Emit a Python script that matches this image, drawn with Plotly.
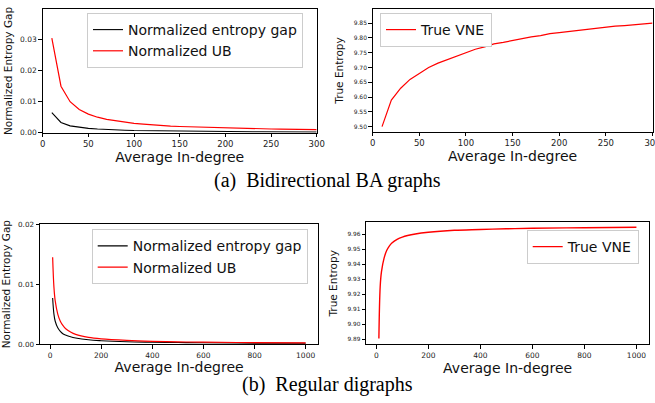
import plotly.graph_objects as go

# ---- data ----
ba_x = list(range(10, 301, 10))
ba_gap = [0.0065, 0.0033, 0.0022, 0.0017, 0.0014, 0.0012, 0.0010, 0.0009, 0.0008, 0.0007,
          0.00065, 0.0006, 0.00055, 0.0005, 0.00047, 0.00044, 0.00041, 0.00039, 0.00037, 0.00035,
          0.00033, 0.00032, 0.0003, 0.00029, 0.00028, 0.00027, 0.00026, 0.00025, 0.00024, 0.00023]
ba_ub = [0.0305, 0.0150, 0.0100, 0.0075, 0.0060, 0.0050, 0.0043, 0.0038, 0.0034, 0.0030,
         0.00275, 0.0025, 0.0023, 0.0021, 0.0020, 0.0019, 0.0018, 0.0017, 0.0016, 0.0015,
         0.00145, 0.0014, 0.0013, 0.00125, 0.0012, 0.00115, 0.0011, 0.00107, 0.00103, 0.0010]
ba_vne = [9.50, 9.59, 9.63, 9.66, 9.68, 9.70, 9.715, 9.727, 9.737, 9.75,
          9.762, 9.77, 9.78, 9.785, 9.792, 9.798, 9.804, 9.808, 9.815, 9.818,
          9.822, 9.826, 9.83, 9.833, 9.836, 9.84, 9.842, 9.845, 9.847, 9.85]

rg_x = [10, 15, 20, 30, 40, 50, 60, 80, 100, 150, 200, 300, 400, 500, 600, 800, 1000]
rg_gap = [0.0077, 0.0050, 0.0038, 0.0027, 0.0021, 0.0017, 0.0015, 0.0012, 0.0010, 0.0007,
          0.00055, 0.00038, 0.0003, 0.00024, 0.0002, 0.00015, 0.00012]
rg_ub = [0.0145, 0.0095, 0.0072, 0.0050, 0.0038, 0.0031, 0.0026, 0.0020, 0.0016, 0.0011,
         0.00085, 0.0006, 0.00045, 0.00036, 0.0003, 0.00023, 0.00018]
rg_vne = [9.8905, 9.925, 9.935, 9.944, 9.949, 9.952, 9.954, 9.9565, 9.958, 9.960,
          9.9612, 9.9625, 9.963, 9.9635, 9.9638, 9.9642, 9.9645]

ba_x_ticks = [0, 50, 100, 150, 200, 250, 300]
rg_x_ticks = [0, 200, 400, 600, 800, 1000]
ba_y_ticks = [0.00, 0.01, 0.02, 0.03]
ba_vne_ticks = [9.50, 9.55, 9.60, 9.65, 9.70, 9.75, 9.80, 9.85]
rg_y_ticks = [0.00, 0.01, 0.02]
rg_vne_ticks = [9.89, 9.90, 9.91, 9.92, 9.93, 9.94, 9.95, 9.96]

W, H = 655, 403
FONT = "DejaVu Sans"

def dx(a, b):
    return [a / W, b / W]

def dy(top, bot):
    return [1 - bot / H, 1 - top / H]

fig = go.Figure()

fig.add_trace(go.Scatter(x=ba_x, y=ba_gap, mode="lines", name="Normalized entropy gap",
                         line=dict(color="black", width=1.1), xaxis="x", yaxis="y", legend="legend"))
fig.add_trace(go.Scatter(x=ba_x, y=ba_ub, mode="lines", name="Normalized UB",
                         line=dict(color="red", width=1.2), xaxis="x", yaxis="y", legend="legend"))
fig.add_trace(go.Scatter(x=ba_x, y=ba_vne, mode="lines", name="True VNE",
                         line=dict(color="red", width=1.2), xaxis="x2", yaxis="y2", legend="legend2"))
fig.add_trace(go.Scatter(x=rg_x, y=rg_gap, mode="lines", name="Normalized entropy gap",
                         line=dict(color="black", width=1.1, shape="spline"), xaxis="x3", yaxis="y3", legend="legend3"))
fig.add_trace(go.Scatter(x=rg_x, y=rg_ub, mode="lines", name="Normalized UB",
                         line=dict(color="red", width=1.2, shape="spline"), xaxis="x3", yaxis="y3", legend="legend3"))
fig.add_trace(go.Scatter(x=rg_x, y=rg_vne, mode="lines", name="True VNE",
                         line=dict(color="red", width=1.4, shape="spline"), xaxis="x4", yaxis="y4", legend="legend4"))

def xax(domain, anchor, rng, ticks, size=8):
    return dict(domain=domain, anchor=anchor, range=rng, tickvals=ticks, automargin=False,
                showline=True, linecolor="black", linewidth=1, mirror=True,
                ticks="outside", ticklen=3.5, tickcolor="black", tickwidth=0.8,
                showgrid=False, zeroline=False, ticklabeloverflow="allow",
                tickfont=dict(family=FONT, size=size, color="#222"),
                title=dict(text="Average In-degree", font=dict(family=FONT, size=14, color="#111"), standoff=2))

def yax(domain, anchor, rng, ticks, fmt, title, size=8, standoff=5):
    return dict(domain=domain, anchor=anchor, range=rng, tickvals=ticks, tickformat=fmt, automargin=False,
                showline=True, linecolor="black", linewidth=1, mirror=True,
                ticks="outside", ticklen=3.5, tickcolor="black", tickwidth=0.8,
                showgrid=False, zeroline=False,
                tickfont=dict(family=FONT, size=size, color="#222"),
                title=dict(text=title, font=dict(family=FONT, size=10.5, color="#111"), standoff=standoff))

leg_common = dict(bgcolor="white", bordercolor="#cccccc", borderwidth=1,
                  font=dict(family=FONT, size=14, color="#111"),
                  xanchor="left", yanchor="top", tracegroupgap=0, itemwidth=30)

fig.update_layout(
    template="none",
    width=W, height=H, margin=dict(l=0, r=0, t=0, b=0, autoexpand=False),
    paper_bgcolor="white", plot_bgcolor="white",
    xaxis=xax(dx(42.7, 316.7), "y", [0, 300], ba_x_ticks, 8.5),
    yaxis=yax(dy(9.3, 132.7), "x", [0, 0.0398], ba_y_ticks, ".2f", "Normalized Entropy Gap", 7.5, 5),
    xaxis2=xax(dx(372.7, 652.5), "y2", [0, 300], ba_x_ticks, 8.5),
    yaxis2=yax(dy(9.3, 131.7), "x2", [9.483, 9.897], ba_vne_ticks, ".2f", "True Entropy", 6, 7),
    xaxis3=xax(dx(40, 318.3), "y3", [-39.5, 1049.5], rg_x_ticks, 7.5),
    yaxis3=yax(dy(224.3, 344), "x3", [0, 0.02], rg_y_ticks, ".2f", "Normalized Entropy Gap", 7.2, 5),
    xaxis4=xax(dx(366, 649.3), "y4", [-39.5, 1049.5], rg_x_ticks, 7.5),
    yaxis4=yax(dy(222.3, 344.3), "x4", [9.8867, 9.9678], rg_vne_ticks, ".2f", "True Entropy", 5.8, 7),
    legend=dict(x=87 / W, y=1 - 13 / H, **leg_common),
    legend2=dict(x=380 / W, y=1 - 13 / H, **leg_common),
    legend3=dict(x=91.7 / W, y=1 - 229.3 / H, **leg_common),
    legend4=dict(x=526.7 / W, y=1 - 230 / H, **leg_common),
    annotations=[
        dict(text="(a)  Bidirectional BA graphs", x=0.5, y=1 - 180 / H, xref="paper", yref="paper",
             showarrow=False, font=dict(family="Liberation Serif", size=20, color="black"),
             xanchor="center", yanchor="middle"),
        dict(text="(b)  Regular digraphs", x=0.5, y=1 - 384 / H, xref="paper", yref="paper",
             showarrow=False, font=dict(family="Liberation Serif", size=20, color="black"),
             xanchor="center", yanchor="middle"),
    ],
)

fig.write_html("out.html", config={"displayModeBar": False},
               post_script="document.body.style.margin='0';document.body.style.padding='0';")
